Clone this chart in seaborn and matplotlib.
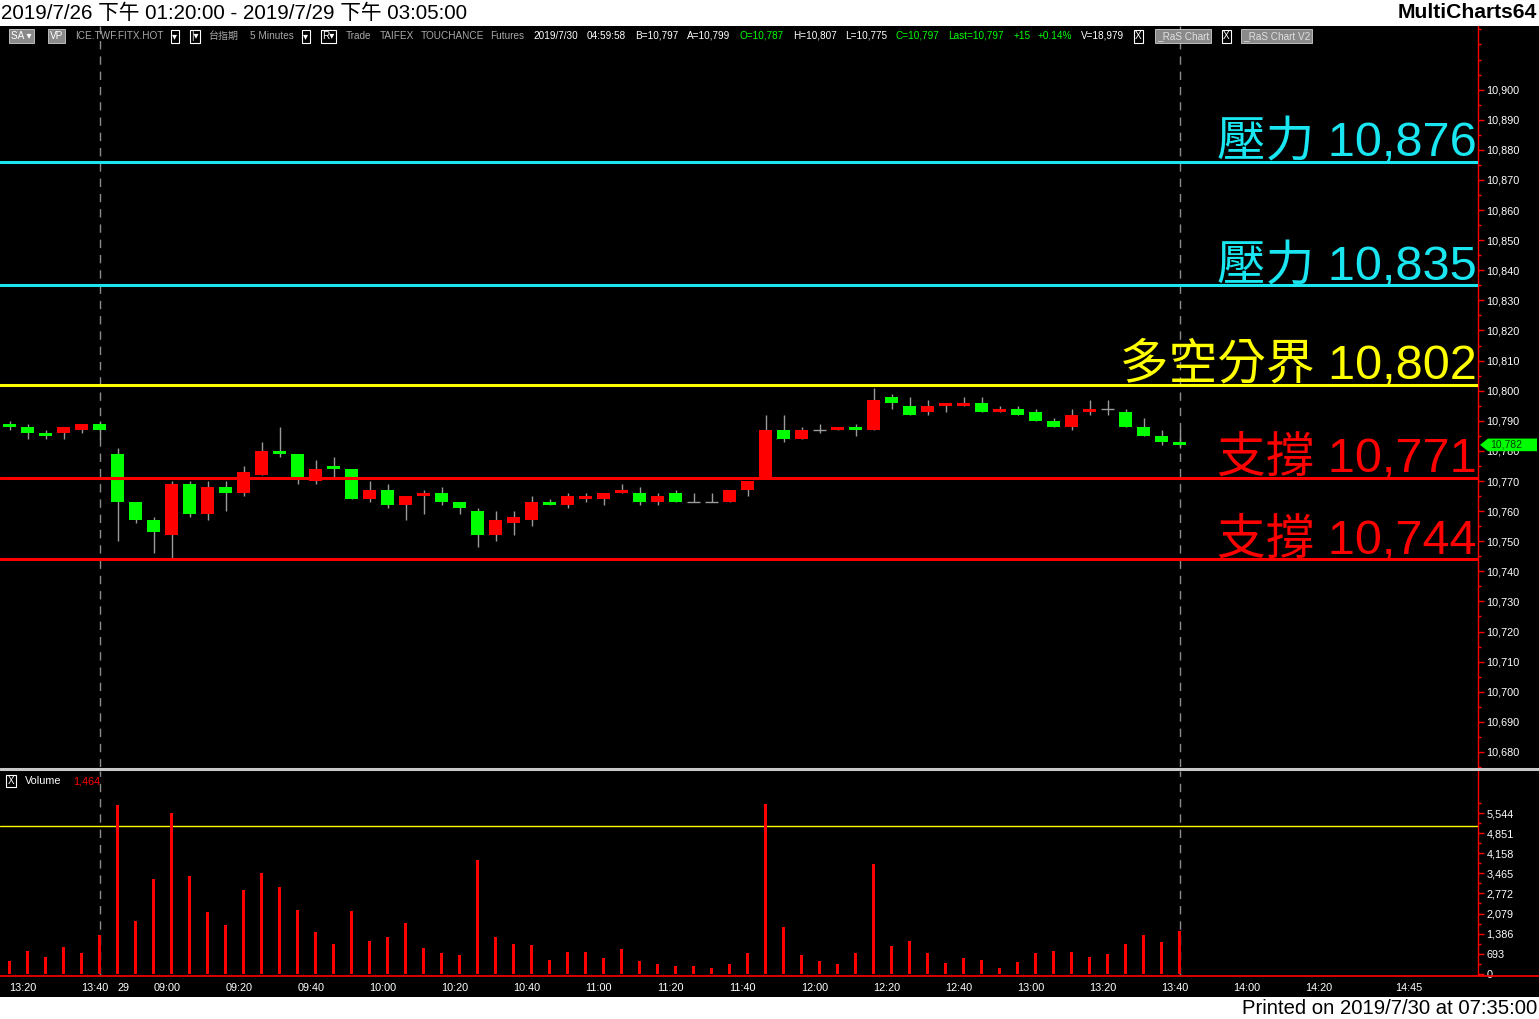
import numpy as np
import pandas as pd
import seaborn as sns
import matplotlib.pyplot as plt
import matplotlib.transforms as mtrans
from matplotlib.patches import Rectangle, Polygon
from matplotlib.lines import Line2D

sns.set_style("dark", {"axes.facecolor": "black", "axes.grid": False})
plt.rcParams['font.family'] = ['Liberation Sans', 'Noto Sans CJK TC', 'DejaVu Sans']

# 5 minute bars: 7/26 13:20 .. 13:45, then 7/29 08:50 .. 13:45
opens = [10789, 10788, 10786, 10786, 10787, 10789, 10779, 10763, 10757, 10752,
         10769, 10759, 10768, 10766, 10772, 10780, 10779, 10770, 10775, 10774,
         10764, 10767, 10762, 10765, 10766, 10763, 10760, 10752, 10756, 10757,
         10763, 10762, 10764, 10764, 10766, 10766, 10763, 10766, 10763, 10763,
         10763, 10767, 10771, 10787, 10784, 10787, 10787, 10788, 10787, 10798,
         10795, 10793, 10795, 10795, 10796, 10793, 10794, 10793, 10790, 10788,
         10793, 10794, 10793, 10788, 10785, 10783]
highs = [10790, 10789, 10787, 10788, 10789, 10790, 10781, 10763, 10758, 10770,
         10770, 10770, 10770, 10775, 10783, 10788, 10779, 10777, 10778, 10774,
         10770, 10769, 10765, 10767, 10768, 10763, 10761, 10760, 10760, 10765,
         10764, 10766, 10766, 10766, 10769, 10768, 10766, 10767, 10766, 10766,
         10767, 10770, 10792, 10792, 10788, 10789, 10788, 10789, 10801, 10799,
         10798, 10797, 10796, 10798, 10798, 10795, 10795, 10794, 10791, 10794,
         10797, 10797, 10794, 10791, 10787, 10787]
lows = [10787, 10784, 10784, 10784, 10786, 10784, 10750, 10756, 10746, 10744,
        10758, 10757, 10760, 10765, 10772, 10778, 10769, 10769, 10771, 10764,
        10763, 10761, 10757, 10759, 10762, 10759, 10748, 10750, 10752, 10755,
        10762, 10761, 10763, 10762, 10766, 10762, 10762, 10763, 10763, 10763,
        10763, 10765, 10771, 10783, 10784, 10786, 10787, 10785, 10787, 10794,
        10792, 10792, 10793, 10795, 10793, 10793, 10792, 10790, 10788, 10787,
        10792, 10792, 10788, 10785, 10782, 10781]
closes = [10788, 10786, 10785, 10788, 10789, 10787, 10763, 10757, 10753, 10769,
          10759, 10768, 10766, 10773, 10780, 10779, 10771, 10774, 10774, 10764,
          10767, 10762, 10765, 10766, 10763, 10761, 10752, 10757, 10758, 10763,
          10762, 10765, 10765, 10766, 10767, 10763, 10765, 10763, 10763, 10763,
          10767, 10770, 10787, 10784, 10787, 10787, 10788, 10787, 10797, 10796,
          10792, 10795, 10796, 10796, 10793, 10794, 10792, 10790, 10788, 10792,
          10794, 10794, 10788, 10785, 10783, 10782]
volumes = [450, 790, 590, 930, 720, 1345, 5830, 1830, 3280, 5555,
           3380, 2140, 1690, 2900, 3480, 3000, 2210, 1450, 1035, 2170,
           1140, 1280, 1760, 900, 720, 655, 3930, 1280, 1035, 1000,
           480, 760, 760, 550, 860, 450, 345, 275, 275, 207,
           345, 725, 5865, 1620, 655, 450, 345, 725, 3795, 965,
           1140, 725, 380, 550, 480, 207, 415, 725, 790, 760,
           585, 690, 1035, 1345, 1105, 1464]

tick_bars = [0, 4, 6, 8, 12, 16, 20, 24, 28, 32, 36, 40, 44, 48, 52, 56, 60, 64, 68, 72, 77]
tick_labels = ['13:20', '13:40', '29', '09:00', '09:20', '09:40', '10:00', '10:20', '10:40',
               '11:00', '11:20', '11:40', '12:00', '12:20', '12:40', '13:00', '13:20',
               '13:40', '14:00', '14:20', '14:45']
session_ends = [5, 65]

levels = [10876, 10835, 10802, 10771, 10744]
level_names = ['壓力', '壓力', '多空分界', '支撐', '支撐']
level_colors = ['#19e6f0', '#19e6f0', '#ffff00', '#ff0000', '#ff0000']

price_ticks = list(range(10680, 10901, 10))
vol_ticks = list(range(0, 5545, 693))
vol_ref = 5100

W, H = 1539, 1019
fig = plt.figure(figsize=(W / 100, H / 100), dpi=100, facecolor='white')


def box(x0, y0, x1, y1):
    return [x0 / W, 1 - y1 / H, (x1 - x0) / W, (y1 - y0) / H]


fig.patches.append(Rectangle((0, 1 - 997 / H), 1, (997 - 26) / H, transform=fig.transFigure,
                             facecolor='black', edgecolor='none', zorder=-5))

ax = fig.add_axes(box(0, 26, 1478, 767))
axv = fig.add_axes(box(0, 771, 1478, 975))
for a in (ax, axv):
    a.set_facecolor('none')
    for s in ['top', 'left', 'bottom']:
        a.spines[s].set_visible(False)
    a.spines['right'].set_color('red')
    a.spines['right'].set_linewidth(1)

xlim = (-0.53, 81.58)

# candles (red = up, green = down)
o, h, l, c = map(np.array, (opens, highs, lows, closes))
idx = np.arange(len(o))
up, dn, flat = c > o, c < o, c == o
ax.vlines(idx, l, h, color='#9a9a9a', lw=1, zorder=2)
ax.bar(idx[up], (c - o)[up], bottom=o[up], width=0.72, color='#ff0000', linewidth=0, zorder=3)
ax.bar(idx[dn], (o - c)[dn], bottom=c[dn], width=0.72, color='#00ff00', linewidth=0, zorder=3)
ax.hlines(o[flat], idx[flat] - 0.36, idx[flat] + 0.36, color='#9a9a9a', lw=1, zorder=3)

for lv, nm, col in zip(levels, level_names, level_colors):
    ax.axhline(lv, color=col, lw=2.2, zorder=4)
    ax.text(81.5, lv + 1.9, f'{nm} {lv:,}', ha='right', va='baseline', color=col,
            fontsize=35, zorder=5)

for a in (ax, axv):
    for b in session_ends:
        a.axvline(b, color='#8c8c8c', lw=1, ls=(0, (6, 5)), zorder=1)

ax.set_xlim(*xlim)
ax.set_ylim(10676.35, 10921.14)
ax.set_xticks([])
ax.yaxis.tick_right()
ax.set_yticks(price_ticks)
ax.set_yticklabels([f'{v:,}' for v in price_ticks])
ax.set_yticks(np.arange(10675, 10925, 5), minor=True)
ax.tick_params(axis='y', which='major', direction='out', length=4, width=1, color='red',
               labelcolor='white', labelsize=7.8, pad=2)
ax.tick_params(axis='y', which='minor', direction='out', length=2, width=1, color='red')

# volume
vdf = pd.DataFrame({'bar': idx, 'volume': volumes})
sns.barplot(data=vdf, x='bar', y='volume', ax=axv, color='#ff0000', saturation=1,
            width=0.17, native_scale=True, errorbar=None, edgecolor='none', linewidth=0,
            zorder=3)
axv.axhline(vol_ref, color='#ffff00', lw=1, zorder=2)
axv.set_xlabel('')
axv.set_ylabel('')
axv.set_xlim(*xlim)
axv.set_ylim(-40, 6994)
axv.yaxis.tick_right()
axv.set_yticks(vol_ticks)
axv.set_yticklabels([f'{v:,}' for v in vol_ticks])
axv.set_yticks(np.arange(0, 5545 + 347, 346.5), minor=True)
axv.tick_params(axis='y', which='major', direction='out', length=4, width=1, color='red',
                labelcolor='white', labelsize=7.8, pad=2)
axv.tick_params(axis='y', which='minor', direction='out', length=2, width=1, color='red')
axv.set_xticks(tick_bars)
axv.set_xticklabels(tick_labels)
for t in axv.get_xticklabels():
    t.set_ha('left')
axv.tick_params(axis='x', direction='out', length=3, width=1, color='red',
                labelcolor='white', labelsize=7.8, pad=3)

# frame lines
fig.add_artist(Line2D([0, 1], [1 - 769 / H, 1 - 769 / H], color='#c8c8c8', lw=2.2,
                      transform=fig.transFigure, zorder=6))
fig.add_artist(Line2D([0, 1], [1 - 976 / H, 1 - 976 / H], color='#ff0000', lw=1.2,
                      transform=fig.transFigure, zorder=6))

# last price marker
tr = mtrans.blended_transform_factory(fig.transFigure, ax.transData)
last = closes[-1]
dy = 2.1
fig.add_artist(Polygon([(1480 / W, last), (1488 / W, last + dy), (1537 / W, last + dy),
                        (1537 / W, last - dy), (1488 / W, last - dy)], closed=True,
                       transform=tr, facecolor='#00ff00', edgecolor='none', zorder=7))
fig.text(1490 / W, last, f'{last:,}', transform=tr, ha='left', va='center', fontsize=7.5,
         color='#004000', zorder=8)

# volume pane caption
fig.text(11 / W, 1 - 781 / H, 'X', ha='center', va='center', fontsize=7, color='white',
         bbox=dict(boxstyle='square,pad=0.15', fc='black', ec='white', lw=0.8))
fig.text(25 / W, 1 - 781 / H, 'Volume', ha='left', va='center', fontsize=7.8, color='white')
fig.text(73 / W, 1 - 781 / H, f'{volumes[-1]:,}', ha='left', va='center', fontsize=7.8,
         color='#ff0000')

# title / footer
fig.text(1 / W, 1 - 13 / H, '2019/7/26 下午 01:20:00 - 2019/7/29 下午 03:05:00', ha='left',
         va='center', fontsize=14.9, color='black')
fig.text(1537 / W, 1 - 13 / H, 'MultiCharts64', ha='right', va='center', fontsize=15.2,
         fontweight='bold', color='black')
fig.text(1537 / W, 1 - 1008 / H, 'Printed on 2019/7/30 at 07:35:00', ha='right', va='center',
         fontsize=14.6, color='black')

# toolbar
narrow = ['Liberation Sans Narrow', 'Liberation Sans', 'Noto Sans CJK TC', 'DejaVu Sans']
toolbar = [
    (11, 'SA ▾', 'white', 'fill'), (50, 'VP', 'white', 'fill'),
    (75, 'ICE.TWF.FITX.HOT', '#a8a8a8', None), (172, '▾', 'white', 'frame'),
    (191, '|▾', 'white', 'frame'), (208, '台指期', '#a8a8a8', None),
    (250, '5 Minutes', '#a8a8a8', None), (303, '▾', 'white', 'frame'),
    (322, 'R▾', 'white', 'frame'), (346, 'Trade', '#a8a8a8', None),
    (380, 'TAIFEX', '#a8a8a8', None), (421, 'TOUCHANCE', '#a8a8a8', None),
    (490, 'Futures', '#a8a8a8', None), (533, '2019/7/30', 'white', None),
    (587, '04:59:58', 'white', None), (635, 'B=10,797', 'white', None),
    (687, 'A=10,799', 'white', None), (740, 'O=10,787', '#00ff00', None),
    (793, 'H=10,807', 'white', None), (845, 'L=10,775', 'white', None),
    (896, 'C=10,797', '#00ff00', None), (948, 'Last=10,797', '#00ff00', None),
    (1014, '+15', '#00ff00', None), (1038, '+0.14%', '#00ff00', None),
    (1081, 'V=18,979', 'white', None), (1135, 'X', 'white', 'frame'),
    (1157, '_RaS Chart', '#e0e0e0', 'fill'), (1223, 'X', 'white', 'frame'),
    (1243, '_RaS Chart V2', '#e0e0e0', 'fill'),
]
for x, s, col, kind in toolbar:
    kw = {}
    if kind == 'fill':
        kw['bbox'] = dict(boxstyle='square,pad=0.2', fc='#8a8a8a', ec='#d0d0d0', lw=0.6)
    elif kind == 'frame':
        kw['bbox'] = dict(boxstyle='square,pad=0.15', fc='black', ec='white', lw=0.8)
    fig.text(x / W, 1 - 36 / H, s, ha='left', va='center', fontsize=7.2, color=col,
             family=narrow, **kw)

fig.savefig('out.png', dpi=100, facecolor='white')
